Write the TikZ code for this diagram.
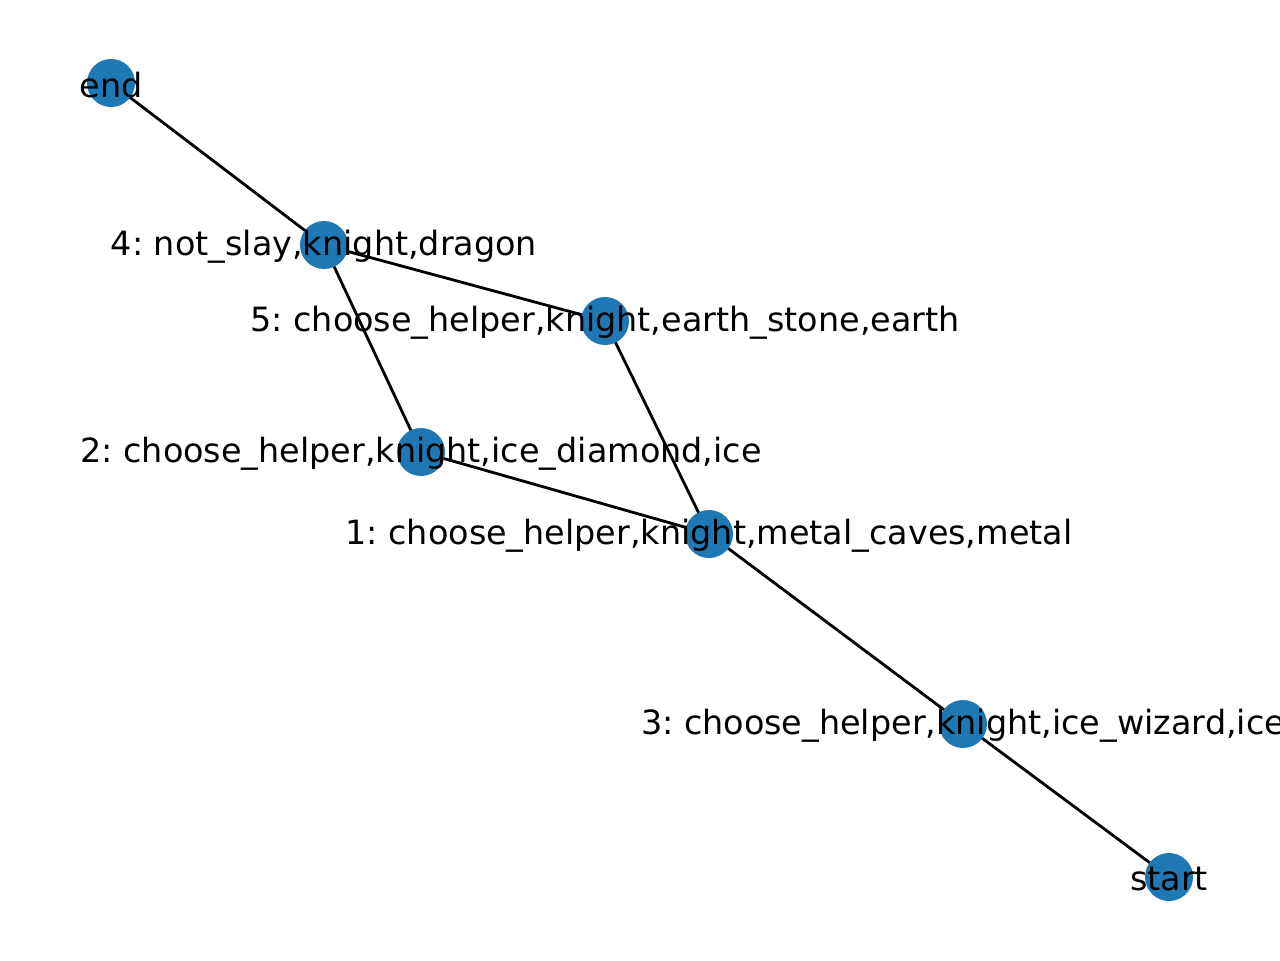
\documentclass[tikz,border=0pt]{standalone}
\usepackage{fontspec}
\setmainfont{DejaVu Sans}
\frenchspacing
\begin{document}
\begin{tikzpicture}[x=0.01cm,y=-0.01cm,
  dot/.style={circle,fill={rgb,255:red,31;green,119;blue,180},draw=none,minimum size=0.48cm,inner sep=0pt},
  lbl/.style={inner sep=0pt,font=\fontsize{9.5}{11}\selectfont,text=black,yshift=-0.02cm},
  edge/.style={draw=black,line width=0.8pt}]
\useasboundingbox (0,0) rectangle (1280,960);
\clip (0,0) rectangle (1280,960);
\coordinate (end) at (111,83);
\coordinate (n4) at (324,245);
\coordinate (n5) at (605,321);
\coordinate (n2) at (421,452);
\coordinate (n1) at (709,534);
\coordinate (n3) at (963,724);
\coordinate (start) at (1169,877);
\draw[edge] (end) -- (n4);
\draw[edge] (n4) -- (n5);
\draw[edge] (n4) -- (n2);
\draw[edge] (n5) -- (n1);
\draw[edge] (n2) -- (n1);
\draw[edge] (n1) -- (n3);
\draw[edge] (n3) -- (start);
\foreach \c in {end,n4,n5,n2,n1,n3,start} \node[dot] (d\c) at (\c) {};
\node[lbl] (lend) at (end) {end};
\node[lbl] (l4) at (n4) {4:\ not\_slay,knight,dragon};
\node[lbl] (l5) at (n5) {5:\ choose\_helper,knight,earth\_stone,earth};
\node[lbl] (l2) at (n2) {2:\ choose\_helper,knight,ice\_diamond,ice};
\node[lbl] (l1) at (n1) {1:\ choose\_helper,knight,metal\_caves,metal};
\node[lbl] (l3) at (n3) {3:\ choose\_helper,knight,ice\_wizard,ice};
\node[lbl] (lstart) at (start) {start};
\end{tikzpicture}
\end{document}
